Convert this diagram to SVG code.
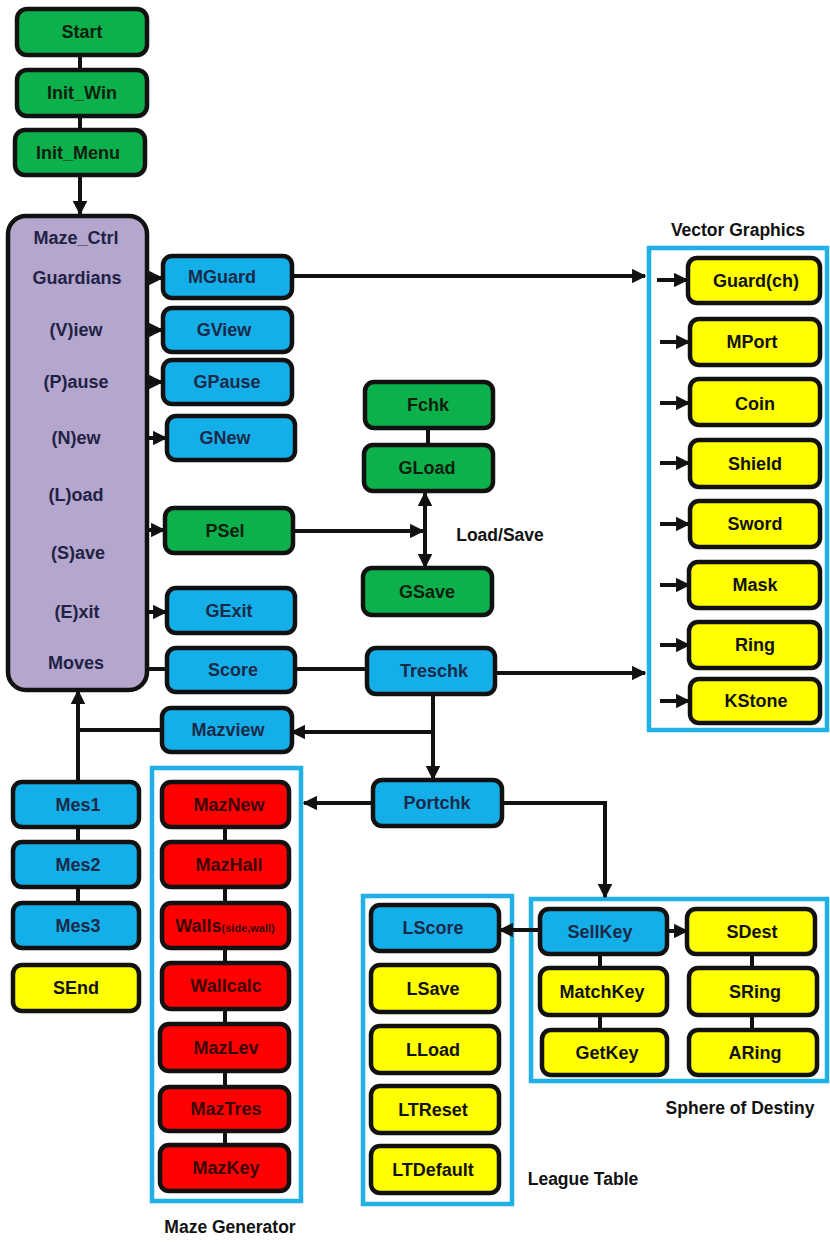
<svg xmlns="http://www.w3.org/2000/svg" width="830" height="1244" viewBox="0 0 830 1244">
<style>
rect.n{stroke:#111;stroke-width:4.5}
.g{fill:#0db14b}.b{fill:#14aee8}.y{fill:#ffff00}.r{fill:#ff0000}.p{fill:#b4a6cd}
text{font-family:"Liberation Sans",Arial,sans-serif;font-weight:bold;font-size:18px;text-anchor:middle}
.tg{fill:#102010}.tb{fill:#1b2a48}.ty{fill:#111}.tr{fill:#3a0505}.tp{fill:#222244}
.lbl{fill:#111;font-size:17.5px}
.cont{fill:none;stroke:#1fb0e4;stroke-width:4.5}
.c line,.c polyline{stroke:#111;stroke-width:4;fill:none}
</style>
<defs>
<marker id="ah" viewBox="0 0 10 10" refX="9" refY="5" markerWidth="3.6" markerHeight="3.6" orient="auto-start-reverse" markerUnits="strokeWidth">
<path d="M0,0 L10,5 L0,10 z" fill="#111"/>
</marker>
</defs>
<rect width="830" height="1244" fill="#fff"/>

<!-- containers -->
<g id="vector-graphics">
<rect class="cont" x="649" y="248" width="178" height="482"/>
<text class="lbl" x="738" y="236">Vector Graphics</text>
</g>
<g id="maze-generator">
<rect class="cont" x="152" y="768" width="149" height="433"/>
<text class="lbl" x="230" y="1233">Maze Generator</text>
</g>
<g id="league-table">
<rect class="cont" x="363" y="896" width="149" height="308"/>
<text class="lbl" x="583" y="1185">League Table</text>
</g>
<g id="sphere-of-destiny">
<rect class="cont" x="531" y="899" width="296" height="182"/>
<text class="lbl" x="740" y="1114">Sphere of Destiny</text>
</g>
<g id="load-save-label"><text class="lbl" x="500" y="541">Load/Save</text></g>

<!-- connectors -->
<g class="c" id="connectors">
<line x1="80" y1="55" x2="80" y2="70"/>
<line x1="80" y1="116" x2="80" y2="130"/>
<line x1="80" y1="175" x2="80" y2="214" marker-end="url(#ah)"/>
<line x1="124" y1="278" x2="162" y2="278" marker-end="url(#ah)"/>
<line x1="127" y1="330" x2="162" y2="330" marker-end="url(#ah)"/>
<line x1="127" y1="382" x2="162" y2="382" marker-end="url(#ah)"/>
<line x1="127" y1="438" x2="166" y2="438" marker-end="url(#ah)"/>
<line x1="125" y1="530" x2="164" y2="530" marker-end="url(#ah)"/>
<line x1="128" y1="612" x2="166" y2="612" marker-end="url(#ah)"/>
<line x1="147" y1="669" x2="167" y2="669"/>
<line x1="295" y1="669" x2="367" y2="669"/>
<line x1="292" y1="276" x2="645" y2="276" marker-end="url(#ah)"/>
<line x1="495" y1="673" x2="645" y2="673" marker-end="url(#ah)"/>
<line x1="657" y1="280" x2="687" y2="280" marker-end="url(#ah)"/>
<line x1="660" y1="342" x2="689" y2="342" marker-end="url(#ah)"/>
<line x1="660" y1="403" x2="689" y2="403" marker-end="url(#ah)"/>
<line x1="660" y1="463" x2="689" y2="463" marker-end="url(#ah)"/>
<line x1="660" y1="524" x2="689" y2="524" marker-end="url(#ah)"/>
<line x1="660" y1="585" x2="689" y2="585" marker-end="url(#ah)"/>
<line x1="660" y1="645" x2="689" y2="645" marker-end="url(#ah)"/>
<line x1="660" y1="701" x2="689" y2="701" marker-end="url(#ah)"/>
<line x1="428" y1="428" x2="428" y2="445"/>
<line x1="293" y1="531" x2="423" y2="531" marker-end="url(#ah)"/>
<line x1="425" y1="493" x2="425" y2="567" marker-start="url(#ah)" marker-end="url(#ah)"/>
<line x1="433" y1="694" x2="433" y2="779" marker-end="url(#ah)"/>
<line x1="433" y1="732" x2="292" y2="732" marker-end="url(#ah)"/>
<line x1="162" y1="730" x2="78" y2="730"/>
<line x1="78" y1="782" x2="78" y2="691" marker-end="url(#ah)"/>
<line x1="78" y1="827" x2="78" y2="842"/>
<line x1="78" y1="887" x2="78" y2="903"/>
<line x1="373" y1="803" x2="304" y2="803" marker-end="url(#ah)"/>
<line x1="225" y1="827" x2="225" y2="842"/>
<line x1="225" y1="887" x2="225" y2="903"/>
<line x1="225" y1="948" x2="225" y2="963"/>
<line x1="225" y1="1009" x2="225" y2="1024"/>
<line x1="225" y1="1071" x2="225" y2="1087"/>
<line x1="225" y1="1131" x2="225" y2="1145"/>
<polyline points="502,803 605,803 605,897" marker-end="url(#ah)"/>
<line x1="540" y1="930" x2="500" y2="930" marker-end="url(#ah)"/>
<line x1="667" y1="931" x2="687" y2="931" marker-end="url(#ah)"/>
<line x1="600" y1="955" x2="600" y2="968"/>
<line x1="600" y1="1015" x2="600" y2="1030"/>
<line x1="752" y1="955" x2="752" y2="968"/>
<line x1="752" y1="1015" x2="752" y2="1030"/>
</g>

<!-- nodes -->
<g id="start"><rect class="n g" x="17" y="9" width="130" height="46" rx="10"/><text class="tg" x="82" y="38">Start</text></g>
<g id="init-win"><rect class="n g" x="17" y="70" width="130" height="46" rx="10"/><text class="tg" x="82" y="99">Init_Win</text></g>
<g id="init-menu"><rect class="n g" x="15" y="130" width="130" height="45" rx="10"/><text class="tg" x="78" y="159">Init_Menu</text></g>

<g id="maze-ctrl">
<rect class="n p" x="8" y="216" width="139" height="474" rx="18"/>
<text class="tp" x="76" y="244">Maze_Ctrl</text>
<text class="tp" x="77" y="284">Guardians</text>
<text class="tp" x="76" y="336">(V)iew</text>
<text class="tp" x="76" y="388">(P)ause</text>
<text class="tp" x="76" y="444">(N)ew</text>
<text class="tp" x="76" y="501">(L)oad</text>
<text class="tp" x="78" y="559">(S)ave</text>
<text class="tp" x="77" y="618">(E)xit</text>
<text class="tp" x="76" y="669">Moves</text>
</g>

<g id="mguard"><rect class="n b" x="163" y="256" width="129" height="42" rx="9"/><text class="tb" x="222" y="283">MGuard</text></g>
<g id="gview"><rect class="n b" x="163" y="308" width="129" height="44" rx="9"/><text class="tb" x="224" y="336">GView</text></g>
<g id="gpause"><rect class="n b" x="163" y="360" width="129" height="44" rx="9"/><text class="tb" x="227" y="388">GPause</text></g>
<g id="gnew"><rect class="n b" x="167" y="416" width="128" height="44" rx="9"/><text class="tb" x="225" y="444">GNew</text></g>
<g id="psel"><rect class="n g" x="165" y="508" width="128" height="45" rx="9"/><text class="tg" x="225" y="537">PSel</text></g>
<g id="gexit"><rect class="n b" x="167" y="588" width="128" height="45" rx="9"/><text class="tb" x="229" y="617">GExit</text></g>
<g id="score"><rect class="n b" x="167" y="648" width="128" height="44" rx="9"/><text class="tb" x="233" y="676">Score</text></g>

<g id="fchk"><rect class="n g" x="365" y="382" width="128" height="46" rx="9"/><text class="tg" x="428" y="411">Fchk</text></g>
<g id="gload"><rect class="n g" x="364" y="445" width="129" height="46" rx="9"/><text class="tg" x="427" y="474">GLoad</text></g>
<g id="gsave"><rect class="n g" x="363" y="568" width="129" height="47" rx="9"/><text class="tg" x="427" y="598">GSave</text></g>
<g id="treschk"><rect class="n b" x="367" y="648" width="128" height="46" rx="9"/><text class="tb" x="434" y="677">Treschk</text></g>
<g id="portchk"><rect class="n b" x="373" y="780" width="129" height="46" rx="9"/><text class="tb" x="437" y="809">Portchk</text></g>
<g id="mazview"><rect class="n b" x="162" y="708" width="130" height="44" rx="9"/><text class="tb" x="228" y="736">Mazview</text></g>

<g id="guardch"><rect class="n y" x="688" y="258" width="132" height="45" rx="9"/><text class="ty" x="756" y="287">Guard(ch)</text></g>
<g id="mport"><rect class="n y" x="690" y="319" width="130" height="46" rx="9"/><text class="ty" x="752" y="348">MPort</text></g>
<g id="coin"><rect class="n y" x="690" y="379" width="130" height="46" rx="9"/><text class="ty" x="755" y="410">Coin</text></g>
<g id="shield"><rect class="n y" x="690" y="440" width="130" height="47" rx="9"/><text class="ty" x="755" y="470">Shield</text></g>
<g id="sword"><rect class="n y" x="690" y="501" width="130" height="46" rx="9"/><text class="ty" x="755" y="530">Sword</text></g>
<g id="mask"><rect class="n y" x="689" y="562" width="131" height="46" rx="9"/><text class="ty" x="755" y="591">Mask</text></g>
<g id="ring"><rect class="n y" x="689" y="622" width="131" height="46" rx="9"/><text class="ty" x="755" y="651">Ring</text></g>
<g id="kstone"><rect class="n y" x="690" y="679" width="130" height="44" rx="9"/><text class="ty" x="756" y="707">KStone</text></g>

<g id="mes1"><rect class="n b" x="13" y="782" width="126" height="45" rx="9"/><text class="tb" x="78" y="811">Mes1</text></g>
<g id="mes2"><rect class="n b" x="13" y="842" width="126" height="45" rx="9"/><text class="tb" x="78" y="871">Mes2</text></g>
<g id="mes3"><rect class="n b" x="13" y="903" width="126" height="45" rx="9"/><text class="tb" x="78" y="932">Mes3</text></g>
<g id="send"><rect class="n y" x="13" y="965" width="126" height="46" rx="9"/><text class="ty" x="76" y="994">SEnd</text></g>

<g id="maznew"><rect class="n r" x="162" y="782" width="127" height="45" rx="9"/><text class="tr" x="229" y="811">MazNew</text></g>
<g id="mazhall"><rect class="n r" x="162" y="842" width="127" height="45" rx="9"/><text class="tr" x="229" y="871">MazHall</text></g>
<g id="walls"><rect class="n r" x="162" y="903" width="127" height="45" rx="9"/><text class="tr" x="225" y="932">Walls<tspan font-size="11">(side,wall)</tspan></text></g>
<g id="wallcalc"><rect class="n r" x="162" y="963" width="127" height="46" rx="9"/><text class="tr" x="226" y="992">Wallcalc</text></g>
<g id="mazlev"><rect class="n r" x="160" y="1024" width="129" height="47" rx="9"/><text class="tr" x="226" y="1054">MazLev</text></g>
<g id="maztres"><rect class="n r" x="160" y="1087" width="129" height="44" rx="9"/><text class="tr" x="226" y="1115">MazTres</text></g>
<g id="mazkey"><rect class="n r" x="160" y="1145" width="129" height="46" rx="9"/><text class="tr" x="226" y="1174">MazKey</text></g>

<g id="lscore"><rect class="n b" x="371" y="905" width="128" height="46" rx="9"/><text class="tb" x="433" y="934">LScore</text></g>
<g id="lsave"><rect class="n y" x="371" y="965" width="128" height="47" rx="9"/><text class="ty" x="433" y="995">LSave</text></g>
<g id="lload"><rect class="n y" x="371" y="1026" width="128" height="47" rx="9"/><text class="ty" x="433" y="1056">LLoad</text></g>
<g id="ltreset"><rect class="n y" x="371" y="1086" width="128" height="47" rx="9"/><text class="ty" x="433" y="1116">LTReset</text></g>
<g id="ltdefault"><rect class="n y" x="371" y="1146" width="128" height="47" rx="9"/><text class="ty" x="433" y="1176">LTDefault</text></g>

<g id="sellkey"><rect class="n b" x="540" y="909" width="127" height="45" rx="9"/><text class="tb" x="600" y="938">SellKey</text></g>
<g id="matchkey"><rect class="n y" x="540" y="968" width="127" height="47" rx="9"/><text class="ty" x="602" y="998">MatchKey</text></g>
<g id="getkey"><rect class="n y" x="542" y="1030" width="125" height="45" rx="9"/><text class="ty" x="607" y="1059">GetKey</text></g>
<g id="sdest"><rect class="n y" x="687" y="909" width="128" height="45" rx="9"/><text class="ty" x="752" y="938">SDest</text></g>
<g id="sring"><rect class="n y" x="689" y="968" width="128" height="47" rx="9"/><text class="ty" x="755" y="998">SRing</text></g>
<g id="aring"><rect class="n y" x="689" y="1030" width="128" height="45" rx="9"/><text class="ty" x="755" y="1059">ARing</text></g>
</svg>
